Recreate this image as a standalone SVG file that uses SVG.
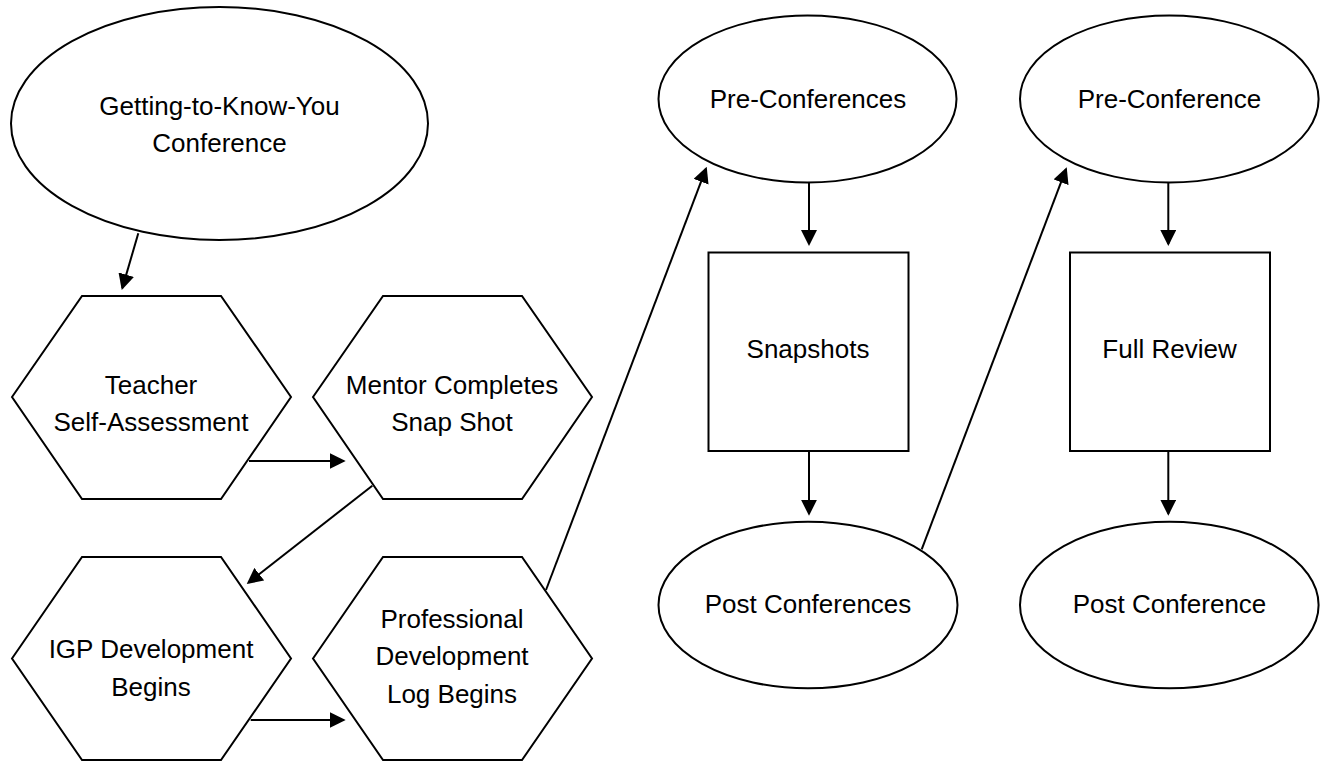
<svg xmlns="http://www.w3.org/2000/svg" width="1325" height="761" viewBox="0 0 1325 761">
<style>
.shape{fill:#fff;stroke:#000;stroke-width:2}
.lbl{font-family:"Liberation Sans",Arial,sans-serif;font-size:26px;fill:#000;text-anchor:middle}
.conn{stroke:#000;stroke-width:2;fill:none;marker-end:url(#arr)}
</style>
<defs>
<marker id="arr" viewBox="0 0 16 16" refX="14" refY="8" markerWidth="16" markerHeight="16" markerUnits="userSpaceOnUse" orient="auto">
<path d="M0,0 L16,8 L0,16 Z" fill="#000"/>
</marker>
</defs>
<rect width="1325" height="761" fill="#fff"/>
<g id="n-getting">
<ellipse class="shape" cx="219.5" cy="123.5" rx="208.5" ry="116.5"/>
<text class="lbl" x="219.5" y="115">Getting-to-Know-You</text>
<text class="lbl" x="219.5" y="152">Conference</text>
</g>
<g id="n-teacher">
<polygon class="shape" points="12,397 82,296 221,296 291,397 221,499 82,499"/>
<text class="lbl" x="151" y="394">Teacher</text>
<text class="lbl" x="151" y="431">Self-Assessment</text>
</g>
<g id="n-mentor">
<polygon class="shape" points="313,397 383,296 522,296 592,397 522,499 383,499"/>
<text class="lbl" x="452" y="394">Mentor Completes</text>
<text class="lbl" x="452" y="431">Snap Shot</text>
</g>
<g id="n-igp">
<polygon class="shape" points="12,658.5 82,557 221,557 291,658.5 221,760 82,760"/>
<text class="lbl" x="151" y="658">IGP Development</text>
<text class="lbl" x="151" y="695.5">Begins</text>
</g>
<g id="n-pdlog">
<polygon class="shape" points="313,658.5 383,557 522,557 592,658.5 522,760 383,760"/>
<text class="lbl" x="452" y="627.5">Professional</text>
<text class="lbl" x="452" y="665">Development</text>
<text class="lbl" x="452" y="702.5">Log Begins</text>
</g>
<g id="n-preconfs">
<ellipse class="shape" cx="807.5" cy="99" rx="149" ry="83.5"/>
<text class="lbl" x="808" y="107.5">Pre-Conferences</text>
</g>
<g id="n-snapshots">
<rect class="shape" x="708.5" y="252.5" width="200" height="198.5"/>
<text class="lbl" x="808" y="358">Snapshots</text>
</g>
<g id="n-postconfs">
<ellipse class="shape" cx="808" cy="605" rx="149.5" ry="83.3"/>
<text class="lbl" x="808" y="612.5">Post Conferences</text>
</g>
<g id="n-preconf">
<ellipse class="shape" cx="1169.3" cy="99" rx="149.3" ry="83.5"/>
<text class="lbl" x="1169.5" y="107.5">Pre-Conference</text>
</g>
<g id="n-fullreview">
<rect class="shape" x="1070" y="252.5" width="200" height="198.5"/>
<text class="lbl" x="1169.5" y="358">Full Review</text>
</g>
<g id="n-postconf">
<ellipse class="shape" cx="1169.3" cy="605" rx="149.3" ry="83.3"/>
<text class="lbl" x="1169.5" y="612.5">Post Conference</text>
</g>
<g id="connectors">
<line class="conn" x1="138.3" y1="233.3" x2="122.3" y2="288.1"/>
<line class="conn" x1="249" y1="461" x2="343.7" y2="461"/>
<line class="conn" x1="372.3" y1="485.7" x2="248.3" y2="582.8"/>
<line class="conn" x1="250.7" y1="720" x2="343.7" y2="720"/>
<line class="conn" x1="546" y1="590" x2="706" y2="168.6"/>
<line class="conn" x1="809" y1="183" x2="809" y2="244"/>
<line class="conn" x1="809" y1="451" x2="809" y2="513.7"/>
<line class="conn" x1="921.7" y1="549.3" x2="1066" y2="169.2"/>
<line class="conn" x1="1168.3" y1="183" x2="1168.3" y2="244"/>
<line class="conn" x1="1168.3" y1="451" x2="1168.3" y2="513.7"/>
</g>
</svg>
